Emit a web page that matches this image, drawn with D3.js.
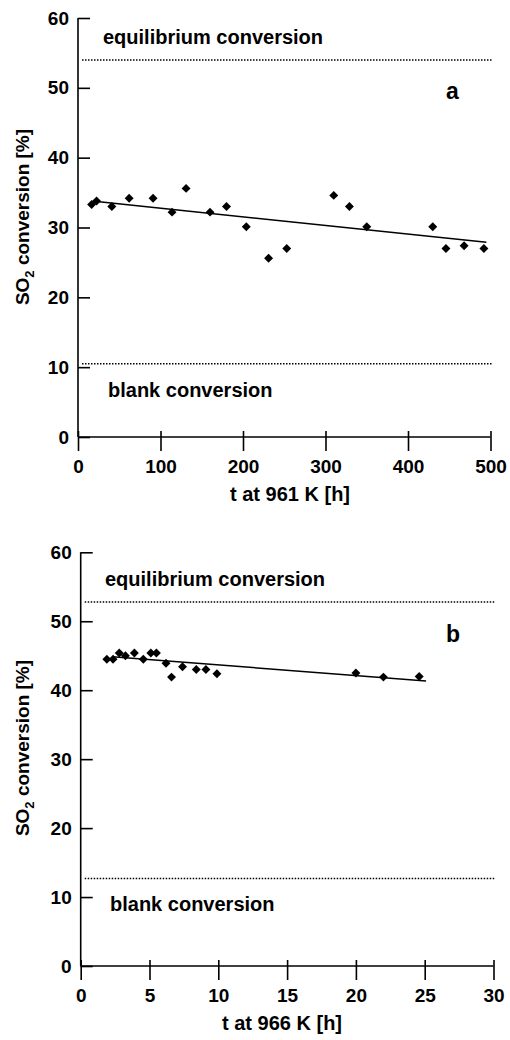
<!DOCTYPE html>
<html>
<head>
<meta charset="utf-8">
<script src="https://cdn.jsdelivr.net/npm/d3@7"></script>
<style>
  body { margin: 0; background: #fff; }
  svg { display: block; font-family: "Liberation Sans", Arial, sans-serif; font-weight: bold; }
  .axis path, .axis line { stroke: #000; stroke-width: 1.6; }
  .axis text { font-size: 19px; font-weight: bold; fill: #000; font-family: "Liberation Sans", Arial, sans-serif; }
</style>
</head>
<body>
<svg id="chart" width="510" height="1040"></svg>
<script>
// panel a: t at 961 K
const timesA = [16.5, 22.5, 41, 62, 91, 114, 131, 160, 180, 204, 231, 253, 310, 329, 350, 430, 446, 468, 492];
const convA = [33.3, 33.8, 33.0, 34.2, 34.2, 32.2, 35.6, 32.2, 33.0, 30.1, 25.6, 27.0, 34.6, 33.0, 30.1, 30.1, 27.0, 27.4, 27.0];
const fitA = [[20, 33.75], [495, 27.9]];
const equilibriumA = 54.0;
const blankA = 10.5;
const xTicksA = [0, 100, 200, 300, 400, 500];

// panel b: t at 966 K
const timesB = [1.9, 2.35, 2.8, 3.25, 3.9, 4.55, 5.1, 5.5, 6.2, 6.6, 7.4, 8.4, 9.1, 9.9, 20.0, 22.0, 24.6];
const convB = [44.5, 44.5, 45.4, 45.0, 45.4, 44.5, 45.4, 45.4, 43.9, 41.9, 43.4, 43.0, 43.0, 42.4, 42.5, 41.9, 42.0];
const fitB = [[2.3, 44.85], [25.1, 41.35]];
const equilibriumB = 52.8;
const blankB = 12.7;
const xTicksB = [0, 5, 10, 15, 20, 25, 30];

const yTicks = [0, 10, 20, 30, 40, 50, 60];

const svg = d3.select('#chart');

function drawPanel(p) {
  const x = d3.scaleLinear().domain(p.xDomain).range([p.left, p.right]);
  const y = d3.scaleLinear().domain([0, 60]).range([p.bottom, p.top]);
  const g = svg.append('g');

  // y axis, ticks pointing inward
  const yAxis = g.append('g')
    .attr('class', 'axis')
    .attr('transform', `translate(${p.left},0)`)
    .call(d3.axisLeft(y).tickValues(yTicks).tickSize(-12).tickPadding(9).tickSizeOuter(0));
  yAxis.select('.domain').attr('d', `M0,${p.bottom}V${p.top}`);

  // x axis, ticks crossing the line
  const xAxis = g.append('g')
    .attr('class', 'axis')
    .attr('transform', `translate(0,${p.bottom})`)
    .call(d3.axisBottom(x).tickValues(p.xTicks).tickSize(14).tickPadding(9).tickSizeOuter(0));
  xAxis.selectAll('.tick line').attr('y1', -6);
  xAxis.select('.domain').attr('d', `M${p.left},0H${p.right}`);

  // reference levels
  [p.equilibrium, p.blank].forEach(v => {
    g.append('line')
      .attr('x1', p.left + 4).attr('x2', p.right + 1)
      .attr('y1', y(v)).attr('y2', y(v))
      .attr('stroke', '#000').attr('stroke-width', 1.5)
      .attr('stroke-dasharray', '1.5,1.5');
  });

  g.append('text').attr('x', p.eqX).attr('y', y(p.equilibrium) - 16)
    .attr('font-size', 20).text('equilibrium conversion');
  g.append('text').attr('x', p.eqX + 5).attr('y', y(p.blank) + 33)
    .attr('font-size', 20).text('blank conversion');
  g.append('text').attr('x', 446).attr('y', p.letterY)
    .attr('font-size', 23).text(p.letter);

  // fit line
  g.append('path')
    .datum(p.fit)
    .attr('d', d3.line().x(d => x(d[0])).y(d => y(d[1])))
    .attr('fill', 'none').attr('stroke', '#000').attr('stroke-width', 1.5);

  // data points
  const sym = d3.symbol().type(d3.symbolSquare).size(40);
  g.selectAll('.pt')
    .data(p.times.map((t, i) => [t, p.conv[i]]))
    .join('path')
    .attr('d', sym)
    .attr('transform', d => `translate(${x(d[0])},${y(d[1])}) rotate(45)`)
    .attr('fill', '#000');

  // axis labels
  g.append('text')
    .attr('x', p.xLabelX).attr('y', p.bottom + 64)
    .attr('text-anchor', 'middle').attr('font-size', 20)
    .text(p.xLabel);

  const yl = g.append('text')
    .attr('transform', `translate(${p.yLabelX},${p.yLabelY}) rotate(-90)`)
    .attr('text-anchor', 'middle').attr('font-size', 19);
  yl.append('tspan').text('SO');
  yl.append('tspan').attr('font-size', 13).attr('dy', 5).text('2');
  yl.append('tspan').attr('dy', -5).text(' conversion [%]');
}

drawPanel({
  xDomain: [0, 500], xTicks: xTicksA, left: 78, right: 490.5, top: 18, bottom: 437,
  times: timesA, conv: convA, fit: fitA, equilibrium: equilibriumA, blank: blankA,
  eqX: 103, letter: 'a', letterY: 99, xLabel: 't at 961 K [h]', xLabelX: 290,
  yLabelX: 29, yLabelY: 217
});

drawPanel({
  xDomain: [0, 30], xTicks: xTicksB, left: 80.7, right: 493.5, top: 552.3, bottom: 966,
  times: timesB, conv: convB, fit: fitB, equilibrium: equilibriumB, blank: blankB,
  eqX: 105, letter: 'b', letterY: 642, xLabel: 't at 966 K [h]', xLabelX: 282,
  yLabelX: 29, yLabelY: 748
});
</script>
</body>
</html>
